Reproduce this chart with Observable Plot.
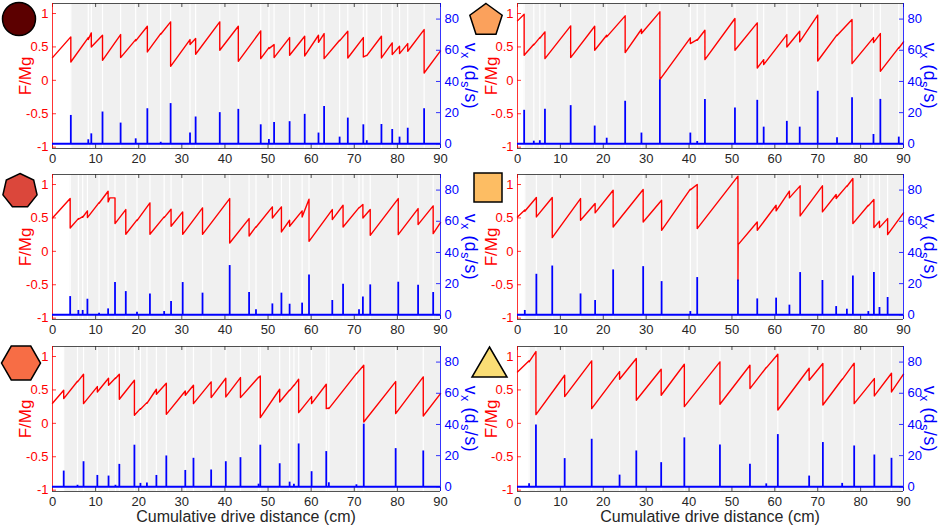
<!DOCTYPE html>
<html><head><meta charset="utf-8">
<script src="https://cdn.jsdelivr.net/npm/d3@7"></script>
<script src="https://cdn.jsdelivr.net/npm/@observablehq/plot@0.6"></script>
<style>
body{margin:0;background:#fff;}
#wrap{position:relative;width:941px;height:527px;overflow:hidden;font-family:"Liberation Sans",Arial,sans-serif;background:#fff}
#wrap svg.plt{position:absolute;}
.lab{position:absolute;white-space:nowrap;font-size:17px;line-height:1;}
.vlab{font-size:17.5px;letter-spacing:0.6px}
.lab sub{font-size:12.5px;vertical-align:-4px;line-height:0}
.xl{position:absolute;white-space:nowrap;font-size:16px;color:#262626;transform:translate(-50%,-50%);line-height:1}
#icons{position:absolute;left:0;top:0;pointer-events:none}
</style></head><body><div id="wrap"></div><script>
// ---- axes ----
const xTicks = [0,10,20,30,40,50,60,70,80,90];
const fTicks = [-1,-0.5,0,0.5,1];
const vTicks = [0,20,40,60,80];
const fDomain = [-1.02, 1.15];
const vDomain = [-3, 90];
const xLabel = "Cumulative drive distance (cm)";
const fLabel = "F/Mg";

// ---- panel 1 (circle) ----
const p1F0 = 0.34, p1F1 = 0.44;
const p1SlipX = [4.25,8.3,9.0,11.6,15.8,19.3,22.0,25.1,27.4,31.9,33.2,38.8,43.1,48.3,50.2,51.4,55.0,58.5,61.7,63.0,66.6,68.5,72.1,72.9,76.3,78.8,80.5,82.4,86.2];
const p1Peak  = [0.65,0.64,0.71,0.675,0.685,0.61,0.81,0.70,0.875,0.61,0.625,0.875,0.81,0.74,0.49,0.535,0.64,0.66,0.675,0.70,0.60,0.735,0.64,0.375,0.66,0.56,0.51,0.55,0.76];
const p1After = [0.275,0.61,0.5,0.3,0.34,0.59,0.425,0.69,0.21,0.535,0.39,0.45,0.285,0.325,0.475,0.34,0.375,0.365,0.57,0.325,0.59,0.335,0.35,0.37,0.335,0.385,0.40,0.435,0.11];
const p1SpikeX = [4.25,8.3,9.0,11.6,15.8,19.3,22.0,25.1,27.4,31.9,33.2,38.8,43.1,48.3,50.2,51.4,55.0,58.5,61.7,63.0,66.6,68.5,72.1,72.9,76.3,78.8,80.5,82.4,86.2];
const p1SpikeV = [18.2,2.6,6.4,20.4,13.3,3.2,22.5,1.0,25.8,6.9,17.2,20,22.1,12.2,2.8,13.7,14.2,18.9,6.9,24,4.3,16.5,12.2,2,12.4,9.2,4.3,10,22.5];

// ---- panel 2 (pentagon) ----
const p2F0 = 0.89, p2F1 = 0.575;
const p2SlipX = [1.55,3.8,5.2,6.4,12.4,18.0,20.8,25.1,28.9,33.2,40.3,41.9,43.7,50.7,55.9,57.4,62.8,65.8,70.0,74.5,78.0,83.0,84.6,88.9];
const p2Peak  = [0.99,0.54,0.64,0.725,0.815,0.81,0.675,0.965,0.765,1.025,0.635,0.61,0.75,0.925,0.86,0.31,0.685,0.735,0.975,0.68,0.91,0.64,0.70,0.49];
const p2After = [0.375,0.53,0.63,0.325,0.34,0.45,0.65,0.415,0.70,0.01,0.55,0.60,0.31,0.45,0.185,0.235,0.50,0.575,0.29,0.67,0.25,0.565,0.135,0.48];
const p2SpikeX = [1.55,3.8,5.2,6.4,12.4,18.0,20.8,25.1,28.9,33.2,40.3,41.9,43.7,50.7,55.9,57.4,62.8,65.8,70.0,74.5,78.0,83.0,84.6,88.9];
const p2SpikeV = [21.5,1.7,2,22.1,24.5,11.4,3.6,27.3,6.9,41,6.9,1.5,28.5,23,27.9,10.7,14.4,10.7,33.7,3.9,29.6,6,28.5,4.3];

// ---- panel 3 (heptagon) ----
const p3F0 = 0.5, p3F1 = 0.43;
const p3SlipX = [4.1,6.0,7.0,8.1,10.8,12.9,13.3,14.5,17.0,19.6,22.6,25.9,27.5,30.2,34.8,41.1,45.6,47.2,51.0,53.1,55.0,57.9,59.5,64.9,67.4,71.1,72.0,73.7,80.2,84.8,88.3];
const p3Peak  = [0.79,0.49,0.52,0.605,0.73,0.9,0.80,0.80,0.625,0.47,0.725,0.515,0.63,0.59,0.65,0.79,0.49,0.37,0.665,0.665,0.465,0.605,0.78,0.625,0.69,0.655,0.70,0.625,0.79,0.64,0.68];
const p3After = [0.35,0.48,0.51,0.505,0.72,0.74,0.80,0.415,0.255,0.46,0.255,0.505,0.375,0.255,0.255,0.125,0.23,0.36,0.50,0.29,0.375,0.515,0.15,0.475,0.365,0.65,0.50,0.24,0.25,0.40,0.265];
const p3SpikeX = [4.1,6.0,7.0,8.1,10.8,12.9,14.5,17.0,19.6,22.6,25.9,27.5,30.2,34.8,41.1,45.6,47.2,51.0,53.1,55.0,57.9,59.5,64.9,67.4,71.1,72.0,73.7,80.2,84.8,88.3];
const p3SpikeV = [11.7,2.8,2.8,10,1,3.8,20.7,14.9,1.7,13.4,2.1,8.5,20.7,13.9,31.6,14.3,3.2,7,13.9,6.8,7.5,25.6,9.2,19.6,3.2,11.5,19.2,20.9,19,14.3];

// ---- panel 4 (square) ----
const p4F0 = 0.515, p4F1 = 0.575;
const p4SlipX = [1.7,4.4,8.1,14.7,18.1,22.3,29.3,33.6,40.3,41.9,51.4,51.45,55.9,60.3,63.4,65.9,71.1,74.3,76.8,78.2,81.8,83.1,84.4,86.3];
const p4Peak  = [0.62,0.805,0.805,0.79,0.715,0.915,0.925,0.765,0.93,1.0,1.125,0.1,0.44,0.69,0.90,0.98,0.98,0.85,0.98,1.09,0.69,0.775,0.45,0.49];
const p4After = [0.60,0.515,0.205,0.465,0.575,0.365,0.44,0.315,0.92,0.34,-0.435,0.1,0.315,0.605,0.80,0.53,0.59,0.79,0.97,0.415,0.68,0.355,0.355,0.25];
const p4SpikeX = [1.7,4.4,8.1,14.7,18.1,22.3,29.3,33.6,40.3,41.9,51.4,55.9,60.3,63.4,65.9,71.1,74.3,76.8,78.2,81.8,83.1,84.4,86.3];
const p4SpikeV = [2.8,26,31.3,13.4,9.2,28.8,30.9,21.3,2.1,23.9,22.4,10.2,10.7,6.2,27.1,22,5.3,3.6,24.9,2.1,27.1,4.7,11.1];

// ---- panel 5 (hexagon) ----
const p5F0 = 0.3, p5F1 = 0.445;
const p5SlipX = [2.6,5.8,7.2,10.4,13.0,14.6,15.5,19.0,20.4,21.9,24.1,26.4,30.8,32.7,36.8,40.2,43.6,47.8,48.2,52.7,55.0,56.0,57.1,60.1,63.5,64.1,70.5,72.2,79.6,86.0];
const p5Peak  = [0.495,0.63,0.735,0.55,0.675,0.68,0.735,0.645,0.22,0.31,0.51,0.60,0.485,0.57,0.62,0.675,0.685,0.69,0.71,0.51,0.50,0.57,0.66,0.40,0.585,0.23,0.745,0.87,0.625,0.695];
const p5After = [0.37,0.62,0.295,0.47,0.57,0.67,0.36,0.12,0.21,0.30,0.435,0.135,0.42,0.295,0.385,0.395,0.385,0.685,0.085,0.32,0.49,0.565,0.16,0.295,0.22,0.22,0.74,0.02,0.145,0.11];
const p5SpikeX = [2.6,5.8,7.2,10.4,13.0,14.6,15.5,19.0,20.4,21.9,24.1,26.4,30.8,32.7,36.8,40.2,43.6,47.8,48.2,52.7,55.0,56.0,57.1,60.1,63.5,64.1,70.5,72.2,79.6,86.0];
const p5SpikeV = [10.1,1,16.1,7.3,6.9,1,14.4,26.7,2.2,2.4,7.3,19.8,10.5,18.3,10.8,16.1,18.7,1.7,26.7,14.8,3,1.7,27.5,9.7,22.6,2.6,1.3,40.2,24.5,23];

// ---- panel 6 (triangle) ----
const p6F0 = 0.77, p6F1 = 0.735;
const p6SlipX = [2.7,4.3,11.0,17.3,23.8,27.7,33.5,38.9,47.2,54.2,58.0,60.7,68.0,71.2,75.7,78.5,83.2,87.2];
const p6Peak  = [0.935,1.075,0.72,0.935,0.775,0.97,0.81,0.885,0.92,0.87,0.835,1.035,0.825,0.895,0.66,0.90,0.67,0.75];
const p6After = [0.92,0.13,0.40,0.22,0.66,0.345,0.42,0.25,0.285,0.52,0.83,0.20,0.645,0.275,0.655,0.295,0.41,0.47];
const p6SpikeX = [2.7,4.3,11.0,17.3,23.8,27.7,33.5,38.9,47.2,54.2,58.0,60.7,68.0,71.2,75.7,78.5,83.2,87.2];
const p6SpikeV = [1.9,39.6,18.1,30.5,7.5,23,15.5,31.4,26.9,14.4,1.9,33.5,6.9,28.4,2.2,26.2,20.4,18.3];

const RED = "#ff0000", BLUE = "#0000ff", INK = "#262626";

const panels = [
  {F0:p1F0,F1:p1F1,sx:p1SlipX,pk:p1Peak,af:p1After,bx:p1SpikeX,bv:p1SpikeV,col:0,row:0},
  {F0:p2F0,F1:p2F1,sx:p2SlipX,pk:p2Peak,af:p2After,bx:p2SpikeX,bv:p2SpikeV,col:1,row:0},
  {F0:p3F0,F1:p3F1,sx:p3SlipX,pk:p3Peak,af:p3After,bx:p3SpikeX,bv:p3SpikeV,col:0,row:1},
  {F0:p4F0,F1:p4F1,sx:p4SlipX,pk:p4Peak,af:p4After,bx:p4SpikeX,bv:p4SpikeV,col:1,row:1},
  {F0:p5F0,F1:p5F1,sx:p5SlipX,pk:p5Peak,af:p5After,bx:p5SpikeX,bv:p5SpikeV,col:0,row:2},
  {F0:p6F0,F1:p6F1,sx:p6SlipX,pk:p6Peak,af:p6After,bx:p6SpikeX,bv:p6SpikeV,col:1,row:2},
];

const wrap = document.getElementById("wrap");
const colLeft = [0, 470], colWidth = [470, 471], colML = [52, 47], colMR = [30, 38];
const rowTop = [0, 171, 343];
const mT = 3, plotH = 145, mB = 22, TL = 4;

for (const p of panels) {
  const width = colWidth[p.col], height = mT + plotH + mB;
  const plotW = width - colML[p.col] - colMR[p.col];
  const pts = [{x: 0, f: p.F0}];
  p.sx.forEach((x, i) => { pts.push({x, f: p.pk[i]}); pts.push({x, f: p.af[i]}); });
  pts.push({x: 90, f: p.F1});
  const spikes = p.bx.map((x, i) => ({x, v: p.bv[i]}));
  const stick = [{a: d3.min(p.bx), b: 90}];
  const common = {
    width, height, marginLeft: colML[p.col], marginRight: colMR[p.col], marginTop: mT, marginBottom: mB,
    style: {background: "transparent", overflow: "visible", fontFamily: '"Liberation Sans", Arial, sans-serif', fontSize: "13px"},
  };
  const main = Plot.plot({
    ...common,
    x: {domain: [0, 90]},
    y: {domain: fDomain},
    marks: [
      Plot.rect(stick, {x1: "a", x2: "b", fill: "#f0f0f0"}),
      Plot.ruleX(p.bx, {stroke: "white", strokeWidth: 1.2}),
      Plot.line(pts, {x: "x", y: "f", stroke: RED, strokeWidth: 1.4}),
      Plot.axisX({anchor: "bottom", ticks: xTicks, tickSize: 0, tickPadding: 5, color: INK, label: null, tickFormat: d => String(d)}),
      Plot.axisY({anchor: "left", ticks: fTicks, tickSize: 0, tickPadding: 4, color: RED, label: null, tickFormat: d => String(d)}),
      Plot.ruleX(xTicks, {stroke: INK, strokeWidth: 0.8, insetTop: plotH - TL}),
      Plot.ruleX(xTicks, {stroke: INK, strokeWidth: 0.8, insetBottom: plotH - TL}),
      Plot.ruleY(fTicks, {stroke: RED, strokeWidth: 0.8, insetRight: plotW - TL}),
      Plot.ruleY([fDomain[0]], {stroke: INK, strokeWidth: 0.8}),
      Plot.ruleY([fDomain[1]], {stroke: INK, strokeWidth: 0.8}),
      Plot.ruleX([0], {stroke: RED, strokeWidth: 0.8})
    ]
  });
  const over = Plot.plot({
    ...common,
    x: {domain: [0, 90], axis: null},
    y: {domain: vDomain},
    marks: [
      Plot.ruleX(spikes, {x: "x", y1: 0, y2: "v", stroke: BLUE, strokeWidth: 1.8}),
      Plot.ruleY([0], {stroke: BLUE, strokeWidth: 1.9}),
      Plot.axisY({anchor: "right", ticks: vTicks, tickSize: 0, tickPadding: 4, color: BLUE, label: null, tickFormat: d => String(d)}),
      Plot.ruleY(vTicks, {stroke: BLUE, strokeWidth: 0.8, insetLeft: plotW - TL}),
      Plot.ruleX([90], {stroke: BLUE, strokeWidth: 0.8})
    ]
  });
  for (const s of [main, over]) {
    s.classList.add("plt");
    s.style.left = colLeft[p.col] + "px";
    s.style.top = rowTop[p.row] + "px";
    wrap.appendChild(s);
  }
  const cy = rowTop[p.row] + mT + plotH / 2;
  // left label
  const fl = document.createElement("div");
  fl.className = "lab"; fl.style.color = RED; fl.textContent = fLabel;
  fl.style.left = (p.col === 0 ? 24.5 : 490.5) + "px"; fl.style.top = cy + "px";
  fl.style.transform = "translate(-50%,-50%) rotate(-90deg)";
  wrap.appendChild(fl);
  // right label
  const vl = document.createElement("div");
  vl.className = "lab vlab"; vl.style.color = BLUE;
  vl.innerHTML = "v<sub>x</sub> (d<sub>s</sub>/s)";
  vl.style.left = (p.col === 0 ? 470 : 929) + "px"; vl.style.top = cy + "px";
  vl.style.transform = "translate(-50%,-50%) rotate(90deg)";
  wrap.appendChild(vl);
}
// x labels
for (const cx of [246, 710]) {
  const d = document.createElement("div");
  d.className = "xl"; d.textContent = xLabel;
  d.style.left = cx + "px"; d.style.top = "517px";
  wrap.appendChild(d);
}
// icons
const NS = "http://www.w3.org/2000/svg";
const ic = document.createElementNS(NS, "svg");
ic.setAttribute("id", "icons"); ic.setAttribute("width", 941); ic.setAttribute("height", 527);
function poly(cx, cy, r, n, rot, fill) {
  const pts = d3.range(n).map(k => {
    const a = rot + k * 2 * Math.PI / n;
    return [cx + r * Math.sin(a), cy - r * Math.cos(a)].join(",");
  }).join(" ");
  const el = document.createElementNS(NS, "polygon");
  el.setAttribute("points", pts); el.setAttribute("fill", fill);
  el.setAttribute("stroke", "#000"); el.setAttribute("stroke-width", "1.5"); el.setAttribute("stroke-linejoin", "miter");
  ic.appendChild(el);
}
const c = document.createElementNS(NS, "circle");
c.setAttribute("cx", 19); c.setAttribute("cy", 19); c.setAttribute("r", 16.5);
c.setAttribute("fill", "#5c0000"); c.setAttribute("stroke", "#000"); c.setAttribute("stroke-width", "1.5");
ic.appendChild(c);
poly(486, 20.5, 17, 5, 0, "#fba15c");
poly(20, 191, 17.5, 7, 0, "#db473b");
const sq = document.createElementNS(NS, "rect");
sq.setAttribute("x", 474); sq.setAttribute("y", 173); sq.setAttribute("width", 28); sq.setAttribute("height", 29);
sq.setAttribute("fill", "#fdbd63"); sq.setAttribute("stroke", "#000"); sq.setAttribute("stroke-width", "1.5");
ic.appendChild(sq);
poly(21, 363, 19.5, 6, Math.PI / 2, "#f76d45");
const tri = document.createElementNS(NS, "polygon");
tri.setAttribute("points", "489.5,347 507,377 472,377");
tri.setAttribute("fill", "#fadd75"); tri.setAttribute("stroke", "#000"); tri.setAttribute("stroke-width", "1.5");
ic.appendChild(tri);
wrap.appendChild(ic);
</script></body></html>
